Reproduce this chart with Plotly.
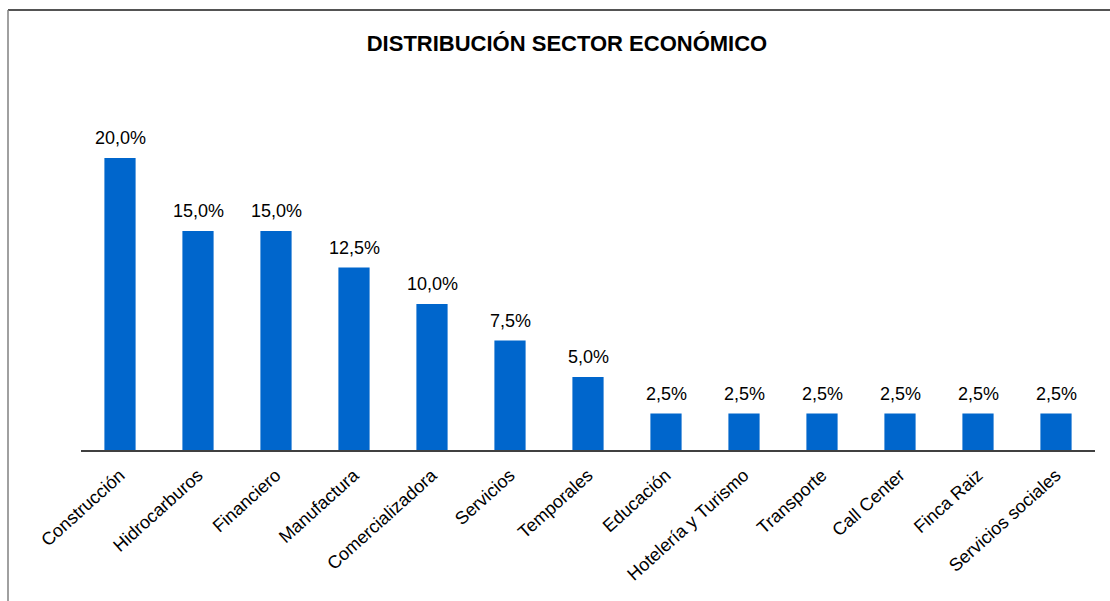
import plotly.graph_objects as go

categories = ["Construcción", "Hidrocarburos", "Financiero", "Manufactura", "Comercializadora",
              "Servicios", "Temporales", "Educación", "Hotelería y Turismo", "Transporte",
              "Call Center", "Finca Raiz", "Servicios sociales"]
values = [0.20, 0.15, 0.15, 0.125, 0.10, 0.075, 0.05, 0.025, 0.025, 0.025, 0.025, 0.025, 0.025]
title = "DISTRIBUCIÓN SECTOR ECONÓMICO"

FONT = "Liberation Sans, Arial, sans-serif"

fig = go.Figure(go.Bar(
    x=categories, y=values,
    marker=dict(color="#0066CC", line=dict(width=0)),
    hovertemplate="%{x}: %{y:.1%}<extra></extra>",
))

# value labels placed at each bar's top via data coordinates
for c, v in zip(categories, values):
    fig.add_annotation(x=c, y=v, xref="x", yref="y",
                       text=f"{v * 100:.1f}%".replace(".", ","),
                       showarrow=False, yanchor="bottom", yshift=8,
                       font=dict(size=18, family=FONT, color="#000000"))

# plot area: x 81..1095, y 85..450
W, H = 1110, 601
L, R, T, B = 81, 15, 85, 151
pw, ph = W - L - R, H - T - B

def px(x):
    return (x - L) / pw

def py(y):
    return (H - B - y) / ph

fig.update_layout(
    width=W, height=H,
    margin=dict(l=L, r=R, t=T, b=B),
    paper_bgcolor="white", plot_bgcolor="white",
    separators=",.",
    bargap=0.6,
    showlegend=False,
    font=dict(family=FONT, color="#000000"),
    title=dict(text="<b>" + title + "</b>", x=567 / W, xref="container",
               y=1 - 43 / H, yref="container", xanchor="center", yanchor="middle",
               font=dict(size=22, family=FONT, color="#000000")),
    xaxis=dict(tickangle=-42, tickfont=dict(size=18, family=FONT, color="#000000"),
               ticklabelstandoff=6,
               showline=True, linecolor="#404040", linewidth=1.5, ticks="",
               showgrid=False, zeroline=False),
    yaxis=dict(range=[0, 0.25], visible=False, showgrid=False, zeroline=False),
    shapes=[
        dict(type="line", xref="paper", yref="paper", x0=px(8), x1=px(1112), y0=py(10), y1=py(10),
             line=dict(color="#1a1a1a", width=1.5)),
        dict(type="line", xref="paper", yref="paper", x0=px(8), x1=px(8), y0=py(10), y1=py(603),
             line=dict(color="#808080", width=1.5)),
    ],
)

fig.write_html("out.html")
